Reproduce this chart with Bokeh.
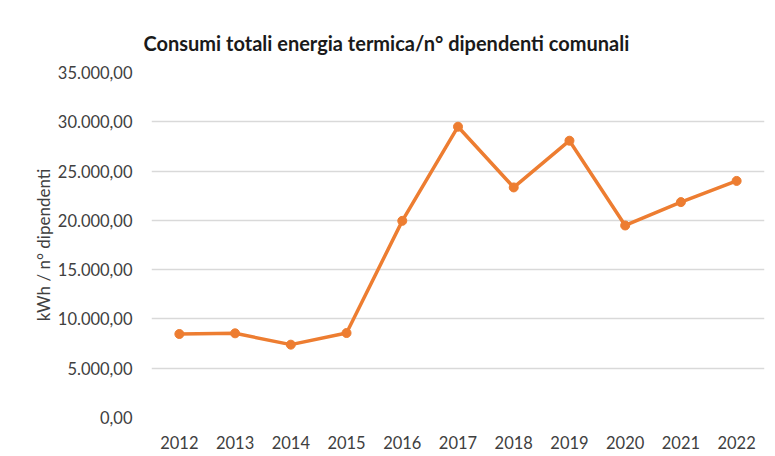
from bokeh.plotting import figure
from bokeh.models import FixedTicker, CustomJSTickFormatter, Range1d
from bokeh.embed import file_html
from bokeh.resources import INLINE

years = ["2012", "2013", "2014", "2015", "2016", "2017", "2018", "2019", "2020", "2021", "2022"]
values = [8470, 8540, 7390, 8570, 19950, 29500, 23340, 28080, 19480, 21850, 24000]
y_ticks = [0, 5000, 10000, 15000, 20000, 25000, 30000, 35000]

title = "Consumi totali energia termica/n° dipendenti comunali"
y_label = "kWh / n° dipendenti"

FONT = "Lato"
ORANGE = "#ED7D31"

p = figure(
    x_range=years,
    y_range=Range1d(0, 35000),
    width=775, height=456,
    output_backend="svg",
    toolbar_location=None,
    min_border_left=151, min_border_right=11,
    min_border_top=72, min_border_bottom=39,
)
p.title.text = title
p.title.align = "left"
p.title.offset = -8
p.title.text_font = FONT
p.title.text_font_size = "20px"
p.title.text_font_style = "bold"
p.title.text_color = "#1a1a1a"
p.title.standoff = 36

p.line(years, values, line_color=ORANGE, line_width=3.5)
p.scatter(years, values, size=9, fill_color=ORANGE, line_color=ORANGE)

p.outline_line_color = None
p.background_fill_color = "white"
p.border_fill_color = "white"

p.xgrid.grid_line_color = None
p.ygrid.grid_line_color = "#d9d9d9"
p.ygrid.grid_line_width = 1.3

p.yaxis.ticker = FixedTicker(ticks=y_ticks)
p.yaxis.formatter = CustomJSTickFormatter(code="""
const s = tick.toFixed(2).split('.');
const i = s[0].replace(/\\B(?=(\\d{3})+(?!\\d))/g, '.');
return i + ',' + s[1];
""")
p.yaxis.axis_label = y_label
p.yaxis.axis_label_text_font = FONT
p.yaxis.axis_label_text_font_size = "17px"
p.yaxis.axis_label_text_font_style = "normal"
p.yaxis.axis_label_text_color = "#404040"
p.yaxis.axis_label_standoff = 1

for ax in (p.xaxis, p.yaxis):
    ax.axis_line_color = None
    ax.major_tick_line_color = None
    ax.minor_tick_line_color = None
    ax.major_label_text_font = FONT
    ax.major_label_text_font_size = "16.5px"
    ax.major_label_text_color = "#404040"

p.yaxis.major_label_standoff = 13
p.xaxis.major_label_standoff = 12

open("out.html", "w").write(file_html(p, INLINE))
